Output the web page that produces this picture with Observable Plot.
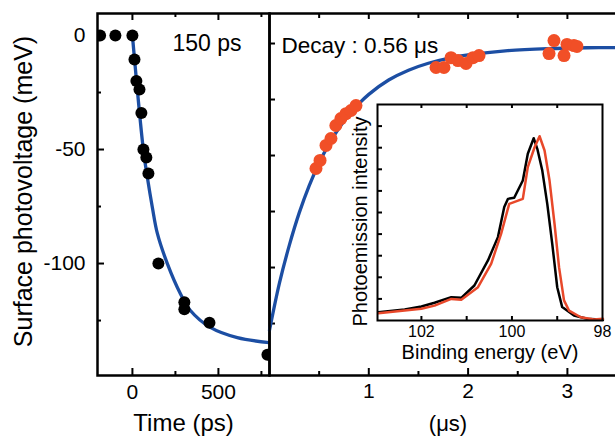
<!DOCTYPE html>
<html><head><meta charset="utf-8">
<script src="https://cdn.jsdelivr.net/npm/d3@7"></script>
<script src="https://cdn.jsdelivr.net/npm/@observablehq/plot@0.6"></script>
<style>
html,body{margin:0;padding:0;background:#fff;}
#wrap{position:relative;width:615px;height:437px;overflow:hidden;background:#fff;}
#wrap svg{position:absolute;left:0;top:0;}
</style></head><body><div id="wrap"></div>
<script>
// ---- Left panel: time in ps ----
const leftTime = [-188, -99, 0, 12, 23, 41, 52, 64, 81, 93, 151, 302, 302, 448, 785];
const leftSPV  = [0, 0, 0, -10.5, -20, -23.7, -34, -50, -53.5, -60.5, -100, -117, -120, -126, -140];
const leftFitTime = [0, 64, 87, 116, 145, 203, 279, 337, 453, 610, 800];
const leftFitSPV  = [0, -50.4, -62.3, -75.4, -86.8, -100, -113.2, -120.6, -128, -132.5, -134.7];
const leftMajorX = [0, 500];
const leftMinorX = [250, 750];
const spvMajor = [0, -50, -100];
const spvMinor = [-25, -75, -125];

// ---- Right panel: time in microseconds ----
const rightTime = [0.468,0.509,0.569,0.619,0.668,0.719,0.770,0.821,0.871,
                   1.677,1.757,1.828,1.898,1.979,2.049,2.110,
                   2.815,2.865,2.966,2.996,3.066,3.096];
const rightSPV  = [-55.8,-52.2,-45.5,-42.4,-36.6,-33.5,-31.3,-29.9,-27.7,
                   -10.7,-10.7,-6.3,-7.6,-8.9,-6.3,-5.4,
                   -4.5,1.3,-5.4,-0.4,-0.9,-1.3];
const rightFitTime = [0,0.1,0.2,0.3,0.4,0.5,0.6,0.7,0.8,0.9,1.0,1.2,1.4,1.6,1.8,2.0,2.4,2.8,3.2,3.5];
const rightFitSPV  = [-128,-107,-90,-75.5,-63.4,-53.3,-44.8,-37.7,-31.8,-26.9,-22.7,-16.3,-11.9,-8.8,-6.6,-5.1,-3.2,-2.3,-1.9,-1.8];
const rightMajorX = [1, 2, 3];
const rightMinorX = [0.5, 1.5, 2.5];
const rightYTicks = [0, -25, -50, -75, -100, -125];

// ---- Inset: photoemission spectra ----
const energyBlack = [102.95,102.37,102.0,101.71,101.34,101.12,100.83,100.53,100.31,100.17,100.09,99.95,99.76,99.65,99.52,99.44,99.33,99.22,99.11,99.0,98.89,98.63,98.34,97.99];
const intensityBlack = [0.38,0.51,0.65,0.82,1.08,1.05,1.62,2.78,3.86,5.25,5.63,5.68,6.48,7.72,8.44,7.95,6.94,5.40,3.55,1.54,0.62,0.23,0.08,0.03];
const energyRed = [102.95,102.37,102.0,101.71,101.34,101.12,100.75,100.46,100.24,100.06,99.76,99.65,99.50,99.39,99.28,99.17,99.06,98.96,98.85,98.74,98.48,98.19,97.99];
const intensityRed = [0.34,0.46,0.54,0.69,1.0,0.96,1.54,2.62,4.01,5.40,5.63,7.10,8.02,8.53,7.87,6.48,4.48,2.47,0.93,0.46,0.15,0.05,0.08];
const insetMajorX = [102, 100, 98];
const insetAllX = [102, 101, 100, 99];
const insetYTicks = [1,2,3,4,5,6,7,8,9];

const FONT = "'Liberation Sans', Arial, sans-serif";
const BLUE = "#1c4ea3";
const RED = "#f14f27";
const baseStyle = {background:"transparent", overflow:"visible", maxWidth:"none", fontFamily:FONT, color:"#000"};
const fmt = d => String(d);

const leftData = leftTime.map((t,i)=>({t, v:leftSPV[i]}));
const leftFit = leftFitTime.map((t,i)=>({t, v:leftFitSPV[i]}));
const rightData = rightTime.map((t,i)=>({t, v:rightSPV[i]}));
const rightFit = rightFitTime.map((t,i)=>({t, v:rightFitSPV[i]}));
const black = energyBlack.map((e,i)=>({e, I:intensityBlack[i]}));
const red = energyRed.map((e,i)=>({e, I:intensityRed[i]}));

// inward tick helpers (H/W = frame size in px, s = tick length)
const tickBottom = (ticks, s, H) => Plot.tickX(ticks, {x:d=>d, insetTop:H-s, stroke:"black", strokeWidth:2});
const tickTop    = (ticks, s, H) => Plot.tickX(ticks, {x:d=>d, insetBottom:H-s, stroke:"black", strokeWidth:2});
const tickLeft   = (ticks, s, W) => Plot.tickY(ticks, {y:d=>d, insetRight:W-s, stroke:"black", strokeWidth:2});

const LH = 437-13-62, LW = 615-97-346;
const left = Plot.plot({
  width:615, height:437,
  marginLeft:97, marginRight:346, marginTop:13, marginBottom:62,
  style: baseStyle,
  x:{domain:[-203, 797], axis:null},
  y:{domain:[-149.1, 9.65], axis:null},
  marks:[
    Plot.axisX(leftMajorX, {anchor:"bottom", tickSize:0, tickPadding:9, fontSize:21, tickFormat:fmt, label:null}),
    Plot.axisY(spvMajor, {anchor:"left", tickSize:0, tickPadding:12, fontSize:21, tickFormat:fmt, label:null}),
    tickBottom(leftMajorX, 7, LH), tickBottom(leftMinorX, 4, LH),
    tickTop(leftMajorX, 7, LH), tickTop(leftMinorX, 4, LH),
    tickLeft(spvMajor, 7, LW), tickLeft(spvMinor, 4, LW),
    Plot.line(leftFit, {x:"t", y:"v", stroke:BLUE, strokeWidth:3.3, curve:"catmull-rom", clip:true}),
    Plot.dot(leftData, {x:"t", y:"v", r:6, fill:"black", stroke:"none", clip:true}),
    Plot.text(["150 ps"], {frameAnchor:"top-left", dx:75, dy:21, lineAnchor:"top", textAnchor:"start", fontSize:23}),
    Plot.text(["Time (ps)"], {frameAnchor:"bottom", dy:38, lineAnchor:"top", fontSize:24}),
    Plot.text(["Surface photovoltage (meV)"], {frameAnchor:"left", rotate:-90, dx:-83, dy:-3, lineAnchor:"top", textAnchor:"middle", fontSize:25}),
    Plot.frame({stroke:"black", strokeWidth:2.5})
  ]
});

const RH = 437-13-62, RW = 620-269-2;
const right = Plot.plot({
  width:620, height:437,
  marginLeft:269, marginRight:2, marginTop:13, marginBottom:62,
  style: baseStyle,
  x:{domain:[0, (620-2-269)/99.3], axis:null},
  y:{domain:[-148.2, 13.4], axis:null},
  marks:[
    Plot.axisX(rightMajorX, {anchor:"bottom", tickSize:0, tickPadding:8, fontSize:21, tickFormat:fmt, label:null}),
    tickBottom(rightMajorX, 7, RH), tickBottom(rightMinorX, 4, RH),
    tickTop(rightMajorX, 6, RH), tickTop(rightMinorX, 5, RH),
    tickLeft(rightYTicks, 6, RW),
    Plot.line(rightFit, {x:"t", y:"v", stroke:BLUE, strokeWidth:3.3, curve:"catmull-rom"}),
    Plot.dot(rightData, {x:"t", y:"v", r:6.5, fill:RED, stroke:"none"}),
    Plot.text(["Decay : 0.56 \u03bcs"], {frameAnchor:"top-left", dx:12, dy:24, lineAnchor:"top", textAnchor:"start", fontSize:22.5}),
    Plot.text(["(\u03bcs)"], {frameAnchor:"bottom", dx:4, dy:40, lineAnchor:"top", fontSize:22}),
    Plot.frame({stroke:"black", strokeWidth:2.5})
  ]
});

const IH = 437-104-117, IW = 615-377-13;
const inset = Plot.plot({
  width:615, height:437,
  marginLeft:377, marginRight:13, marginTop:104, marginBottom:117,
  style: baseStyle,
  x:{domain:[102.97, 98], axis:null},
  y:{domain:[0, 10], axis:null},
  marks:[
    Plot.frame({fill:"white", stroke:"none"}),
    tickTop(insetAllX, 4, IH),
    tickBottom(insetAllX, 4, IH),
    tickLeft(insetYTicks, 5, IW),
    Plot.axisX(insetMajorX, {anchor:"bottom", tickSize:0, tickPadding:5, fontSize:16, tickFormat:fmt, label:null}),
    Plot.line(black, {x:"e", y:"I", stroke:"black", strokeWidth:2.5}),
    Plot.line(red, {x:"e", y:"I", stroke:"#e8482a", strokeWidth:2.5}),
    Plot.text(["Binding energy (eV)"], {frameAnchor:"bottom", dy:24, lineAnchor:"top", fontSize:20}),
    Plot.text(["Photoemission intensity"], {frameAnchor:"left", rotate:-90, dx:-25, dy:9, lineAnchor:"top", textAnchor:"middle", fontSize:20}),
    Plot.frame({stroke:"black", strokeWidth:2})
  ]
});

const wrap = document.getElementById("wrap");
wrap.appendChild(left);
wrap.appendChild(right);
wrap.appendChild(inset);
</script></body></html>
